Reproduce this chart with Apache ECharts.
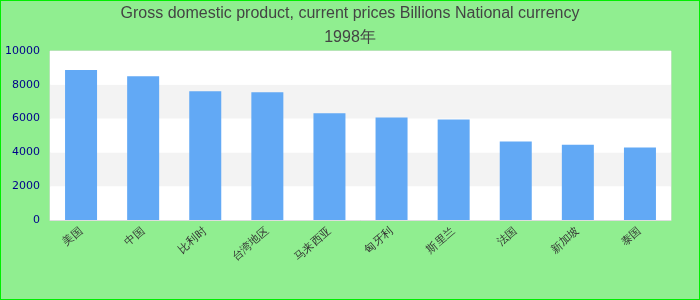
<!DOCTYPE html>
<html>
<head>
<meta charset="utf-8">
<script src="https://cdn.jsdelivr.net/npm/echarts@6/dist/echarts.min.js"></script>
<style>
html,body{margin:0;padding:0;background:#90ee90;}
#c{width:700px;height:300px;box-sizing:border-box;border:1px solid #00ee00;}
</style>
</head>
<body>
<div id="c"></div>
<script>
var titleText = "Gross domestic product, current prices Billions National currency";
var yearText = "1998年";
var categories = ["美国", "中国", "比利时", "台湾地区", "马来西亚", "匈牙利", "斯里兰", "法国", "新加坡", "泰国"];
var values = [8870, 8510, 7620, 7560, 6310, 6070, 5950, 4640, 4460, 4290];
var yTicks = [0, 2000, 4000, 6000, 8000, 10000];

var chart = echarts.init(document.getElementById('c'), null, {renderer: 'canvas'});
chart.setOption({
  backgroundColor: '#90ee90',
  animation: false,
  title: {
    text: titleText + "\n" + yearText,
    left: 'center',
    top: 0,
    padding: [1, 0, 0, 0],
    textStyle: {
      fontFamily: 'Liberation Sans, Arial, sans-serif',
      fontSize: 16,
      fontWeight: 'normal',
      color: '#444444',
      lineHeight: 24
    }
  },
  grid: {
    left: 49, right: 28, top: 50, bottom: 79,
    show: true,
    backgroundColor: '#ffffff',
    borderColor: '#dddddd',
    borderWidth: 1
  },
  xAxis: {
    type: 'category',
    data: categories,
    axisLine: {show: true, lineStyle: {color: '#dddddd'}},
    axisTick: {show: false},
    axisLabel: {
      rotate: 40,
      fontSize: 11,
      color: '#333333',
      margin: 10,
      interval: 0
    }
  },
  yAxis: {
    type: 'value',
    min: yTicks[0],
    max: yTicks[yTicks.length - 1],
    interval: 2000,
    axisLine: {show: false},
    axisTick: {show: false},
    splitLine: {show: false},
    splitArea: {show: true, areaStyle: {color: ['#ffffff', '#f3f3f3']}},
    axisLabel: {
      fontFamily: 'DejaVu Sans, sans-serif',
      fontSize: 11,
      color: '#00008b',
      margin: 10,
      formatter: function (v) { return String(v); }
    }
  },
  series: [{
    type: 'bar',
    data: values,
    barWidth: 32,
    itemStyle: {color: '#62a9f5'}
  }]
});
</script>
</body>
</html>
